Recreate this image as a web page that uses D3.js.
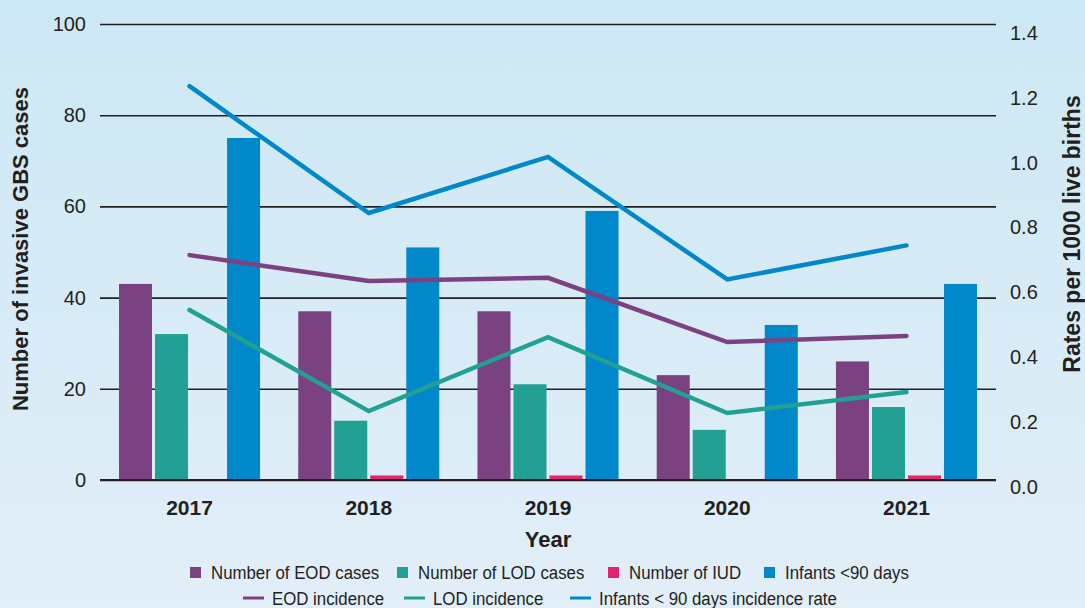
<!DOCTYPE html>
<html>
<head>
<meta charset="utf-8">
<script src="https://cdn.jsdelivr.net/npm/d3@7"></script>
<style>
  body { margin: 0; }
  #chart { width: 1085px; height: 608px; }
  text { fill: #231f20; }
</style>
</head>
<body>
<div id="chart"></div>
<script>
const years = ['2017', '2018', '2019', '2020', '2021'];
const eodCases = [43, 37, 37, 23, 26];
const lodCases = [32, 13, 21, 11, 16];
const iudCases = [0, 1, 1, 0, 1];
const infantCases = [75, 51, 59, 34, 43];
const eodIncidence = [0.715, 0.635, 0.645, 0.447, 0.466];
const lodIncidence = [0.546, 0.234, 0.462, 0.228, 0.293];
const infantIncidence = [1.236, 0.845, 1.018, 0.64, 0.745];
const leftTicks = [0, 20, 40, 60, 80, 100];
const rightTicks = [0, 0.2, 0.4, 0.6, 0.8, 1.0, 1.2, 1.4];

const barSeries = [
  { name: 'Number of EOD cases', values: eodCases, color: '#7b4282' },
  { name: 'Number of LOD cases', values: lodCases, color: '#22a093' },
  { name: 'Number of IUD', values: iudCases, color: '#e6246e' },
  { name: 'Infants <90 days', values: infantCases, color: '#0088cb' },
];
const lineSeries = [
  { name: 'EOD incidence', values: eodIncidence, color: '#7b4282' },
  { name: 'LOD incidence', values: lodIncidence, color: '#22a093' },
  { name: 'Infants < 90 days incidence rate', values: infantIncidence, color: '#0088cb' },
];

const width = 1085;
const height = 608;
const left = 100;
const right = 996;
const font = 'Liberation Sans, Arial, sans-serif';

const svg = d3.select('#chart').append('svg').attr('width', width).attr('height', height);

const grad = svg.append('defs').append('linearGradient').attr('id', 'bg').attr('x1', 0).attr('y1', 0).attr('x2', 0).attr('y2', 1);
grad.append('stop').attr('offset', '0%').attr('stop-color', '#cce8f4');
grad.append('stop').attr('offset', '100%').attr('stop-color', '#e2eef8');
svg.append('rect').attr('width', width).attr('height', height).attr('fill', 'url(#bg)');

const x0 = d3.scaleBand().domain(years).range([left, right]).paddingInner(0.213).paddingOuter(0.106);
const x1 = d3
  .scaleBand()
  .domain(barSeries.map((d) => d.name))
  .range([0, x0.bandwidth()])
  .paddingInner(3 / 36);

const y = d3.scaleLinear().domain([0, 100]).range([480, 24]);
// the right-hand labels sit a little lower than the gridlines in the original
const y2 = d3.scaleLinear().domain([0, 1.4]).range([487, 33]);

// gridlines
svg
  .append('g')
  .attr('transform', `translate(${left},0)`)
  .call(d3.axisRight(y).tickValues(leftTicks).tickFormat('').tickSize(right - left))
  .call((g) => g.select('.domain').remove())
  .selectAll('line')
  .attr('stroke', '#231f20')
  .attr('stroke-width', 1.6);

// bars
svg
  .append('g')
  .selectAll('g')
  .data(years)
  .enter()
  .append('g')
  .attr('transform', (d) => `translate(${x0(d)},0)`)
  .selectAll('rect')
  .data((d, i) => barSeries.map((s) => ({ key: s.name, value: s.values[i], color: s.color })))
  .enter()
  .append('rect')
  .attr('x', (d) => x1(d.key))
  .attr('y', (d) => y(d.value))
  .attr('width', x1.bandwidth())
  .attr('height', (d) => y(0) - y(d.value))
  .attr('fill', (d) => d.color);

// redraw the zero line over the bars
svg
  .append('line')
  .attr('x1', left)
  .attr('x2', right)
  .attr('y1', y(0))
  .attr('y2', y(0))
  .attr('stroke', '#231f20')
  .attr('stroke-width', 2);

// lines
const line = d3
  .line()
  .x((d, i) => x0(years[i]) + x0.bandwidth() / 2)
  .y((d) => y2(d));

svg
  .append('g')
  .selectAll('path')
  .data(lineSeries)
  .enter()
  .append('path')
  .attr('fill', 'none')
  .attr('stroke', (d) => d.color)
  .attr('stroke-width', 4.5)
  .attr('stroke-linecap', 'round')
  .attr('stroke-linejoin', 'miter')
  .attr('d', (d) => line(d.values));

// left axis labels
svg
  .append('g')
  .attr('transform', `translate(${left},0)`)
  .call(d3.axisLeft(y).tickValues(leftTicks).tickSize(0).tickPadding(14))
  .call((g) => g.select('.domain').remove())
  .selectAll('text')
  .style('font-family', font)
  .style('font-size', '20px')
  .attr('fill', '#231f20');

// right axis labels
svg
  .append('g')
  .attr('transform', `translate(${right},0)`)
  .call(d3.axisRight(y2).tickValues(rightTicks).tickFormat(d3.format('.1f')).tickSize(0).tickPadding(14))
  .call((g) => g.select('.domain').remove())
  .selectAll('text')
  .style('font-family', font)
  .style('font-size', '20px')
  .attr('fill', '#231f20');

// year labels
svg
  .append('g')
  .attr('transform', 'translate(0,480)')
  .call(d3.axisBottom(x0).tickSize(0).tickPadding(20))
  .call((g) => g.select('.domain').remove())
  .selectAll('text')
  .style('font-family', font)
  .style('font-weight', 'bold')
  .style('font-size', '21px')
  .attr('fill', '#231f20');

svg
  .append('text')
  .attr('transform', 'translate(548,547)')
  .style('text-anchor', 'middle')
  .style('font-family', font)
  .style('font-weight', 'bold')
  .style('font-size', '22px')
  .text('Year');

svg
  .append('text')
  .attr('transform', 'translate(28,249) rotate(270)')
  .style('text-anchor', 'middle')
  .style('font-family', font)
  .style('font-weight', 'bold')
  .style('font-size', '22px')
  .text('Number of invasive GBS cases');

svg
  .append('text')
  .attr('transform', 'translate(1080,234) rotate(270)')
  .style('text-anchor', 'middle')
  .style('font-family', font)
  .style('font-weight', 'bold')
  .style('font-size', '23px')
  .text('Rates per 1000 live births');

// legend (condensed look via horizontal squeeze)
const barLegendX = [195, 402, 613, 769];
const lineLegendX = [243, 404, 570];

const bl = svg
  .append('g')
  .selectAll('g')
  .data(barSeries)
  .enter()
  .append('g')
  .attr('transform', (d, i) => `translate(${barLegendX[i]},572)`);
bl.append('rect').attr('x', -5).attr('y', -5).attr('width', 11).attr('height', 11).attr('fill', (d) => d.color);
bl
  .append('text')
  .attr('transform', 'translate(16,0) scale(0.885,1)')
  .attr('dy', '0.35em')
  .style('font-family', font)
  .style('font-size', '19px')
  .text((d) => d.name);

const ll = svg
  .append('g')
  .selectAll('g')
  .data(lineSeries)
  .enter()
  .append('g')
  .attr('transform', (d, i) => `translate(${lineLegendX[i]},598)`);
ll.append('line').attr('x1', 0).attr('x2', 21).attr('stroke', (d) => d.color).attr('stroke-width', 3);
ll
  .append('text')
  .attr('transform', 'translate(29,0) scale(0.885,1)')
  .attr('dy', '0.35em')
  .style('font-family', font)
  .style('font-size', '19px')
  .text((d) => d.name);
</script>
</body>
</html>
